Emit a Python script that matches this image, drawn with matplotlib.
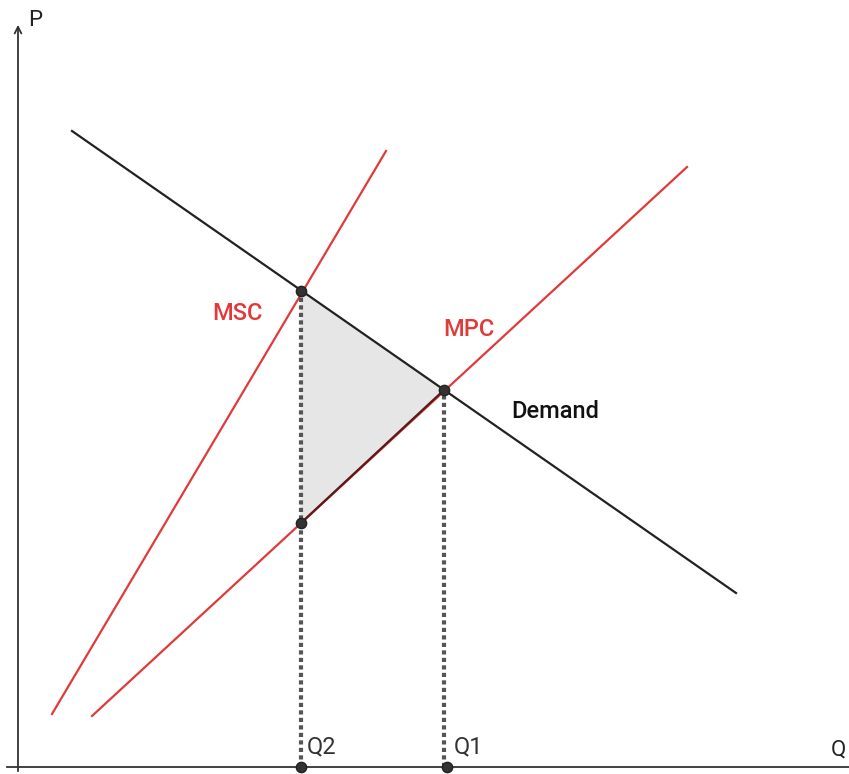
import numpy as np
import matplotlib.pyplot as plt

plt.rcParams['font.family'] = ['Roboto', 'DejaVu Sans']

# line endpoints (Q, P)
demand_q = [54, 718]
demand_p = [636, 174]
msc_q = [34, 368]
msc_p = [53, 616]
mpc_q = [74, 669]
mpc_p = [51, 600]

# key points
q2, q1 = 283, 426
p_msc = 476
p_eq = 377
p_mpc2 = 244

red = '#e03a3a'
dark = '#333333'

fig = plt.figure(figsize=(8.49, 7.74), dpi=100)
ax = fig.add_axes([0, 0, 1, 1])
ax.set_xlim(-18, 831)
ax.set_ylim(-7, 767)
ax.axis('off')

# axes
ax.plot([-11, 831], [0, 0], color=dark, lw=1.3, zorder=2)
ax.annotate('', xy=(0, 745), xytext=(0, -7),
            arrowprops=dict(arrowstyle='->', color=dark, lw=1.3, mutation_scale=12))
ax.text(10, 747, 'P', fontsize=16, va='center', ha='left', color='#222')
ax.text(820, 17, 'Q', fontsize=16, va='center', ha='center', color='#222')

# welfare loss triangle
ax.fill([q2, q1, q2], [p_msc, p_eq, p_mpc2], color='#e6e6e6', zorder=1)

ax.plot(msc_q, msc_p, color=red, lw=1.6, zorder=3)
ax.plot(mpc_q, mpc_p, color=red, lw=1.6, zorder=3)
ax.plot(demand_q, demand_p, color='#222', lw=1.6, zorder=4)
ax.plot([q2, q1], [p_mpc2, p_eq], color='#5a1a1a', lw=1.6, zorder=4)

# dotted drop lines
ax.plot([q2, q2], [0, p_msc], color='#555555', lw=3, ls=(0, (1, 0.8)), zorder=5)
ax.plot([q1, q1], [0, p_eq], color='#555555', lw=3, ls=(0, (1, 0.8)), zorder=5)

ax.scatter([q2, q1, q2, q2, q1 + 3], [p_msc, p_eq, p_mpc2, 0, 0], s=55,
           color=dark, edgecolor='#222', zorder=6, clip_on=False)

fs = 17
ax.text(219, 453, 'MSC', fontsize=fs, color=red, ha='center', va='center', weight='medium')
ax.text(451, 437, 'MPC', fontsize=fs, color=red, ha='center', va='center', weight='medium')
ax.text(537, 356, 'Demand', fontsize=fs, color='#111', ha='center', va='center', weight='medium')
ax.text(289, 20, 'Q2', fontsize=fs, color='#333', ha='left', va='center')
ax.text(436, 20, 'Q1', fontsize=fs, color='#333', ha='left', va='center')

fig.savefig('out.png', dpi=100)
